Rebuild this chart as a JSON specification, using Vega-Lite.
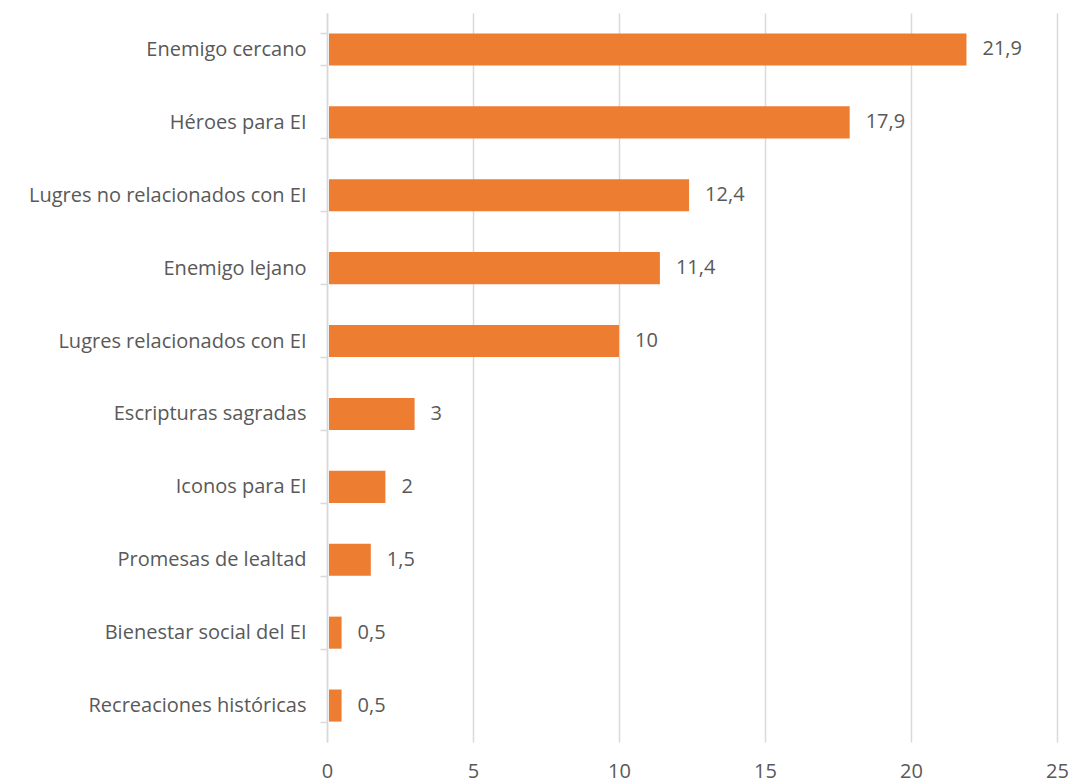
{
  "$schema": "https://vega.github.io/schema/vega-lite/v6.json",
  "width": 730,
  "height": 729,
  "autosize": {"type": "none"},
  "padding": {"left": 327, "top": 13, "right": 16, "bottom": 42},
  "background": "white",
  "config": {"view": {"stroke": null}, "font": "Open Sans"},
  "data": {"values": [
    {"cat": "Enemigo cercano", "v": 21.9, "lbl": "21,9"},
    {"cat": "Héroes para EI", "v": 17.9, "lbl": "17,9"},
    {"cat": "Lugres no relacionados con EI", "v": 12.4, "lbl": "12,4"},
    {"cat": "Enemigo lejano", "v": 11.4, "lbl": "11,4"},
    {"cat": "Lugres relacionados con EI", "v": 10, "lbl": "10"},
    {"cat": "Escripturas sagradas", "v": 3, "lbl": "3"},
    {"cat": "Iconos para EI", "v": 2, "lbl": "2"},
    {"cat": "Promesas de lealtad", "v": 1.5, "lbl": "1,5"},
    {"cat": "Bienestar social del EI", "v": 0.5, "lbl": "0,5"},
    {"cat": "Recreaciones históricas", "v": 0.5, "lbl": "0,5"}
  ]},
  "encoding": {
    "y": {"field": "cat", "type": "nominal", "sort": null,
      "scale": {"paddingInner": 0.56, "paddingOuter": 0.28},
      "axis": {"title": null, "domainColor": "#d9d9d9", "domainWidth": 1.5, "tickColor": "#d9d9d9", "tickSize": 7, "tickWidth": 1.5, "tickBand": "extent", "labelFontSize": 20, "labelColor": "#595959", "labelPadding": 14, "labelLimit": 400}},
    "x": {"field": "v", "type": "quantitative",
      "scale": {"domain": [0, 25], "nice": false},
      "axis": {"title": null, "values": [0, 5, 10, 15, 20, 25], "domain": false, "ticks": false, "gridColor": "#d9d9d9", "gridWidth": 1.5, "labelFontSize": 20, "labelColor": "#595959", "labelPadding": 19, "labelFlush": false}}
  },
  "layer": [
    {"mark": {"type": "bar", "color": "#ED7D31", "x2Offset": 2},
     "encoding": {"x2": {"datum": 0}}},
    {"mark": {"type": "text", "align": "left", "dx": 16, "fontSize": 20, "color": "#595959"},
     "encoding": {"text": {"field": "lbl"}}}
  ]
}
